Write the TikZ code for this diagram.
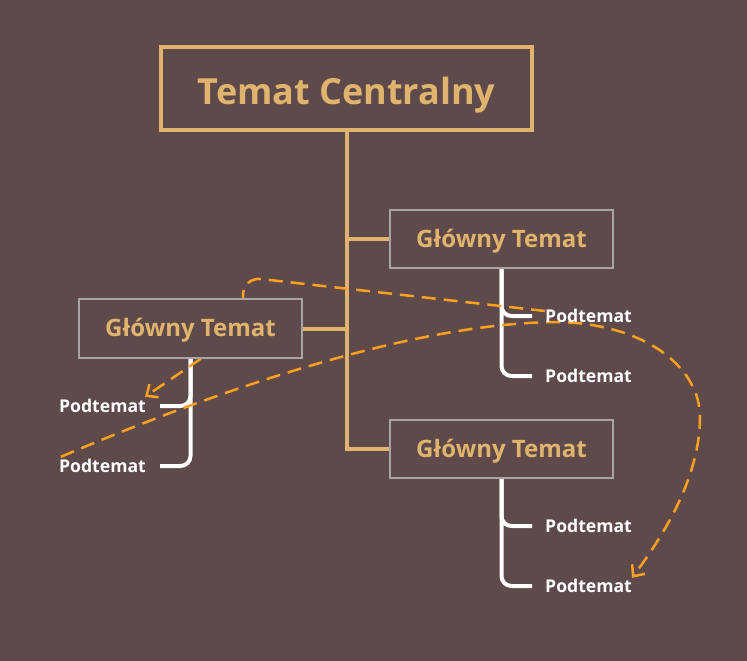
\documentclass[tikz,border=0pt]{standalone}
\usepackage{fontspec}
\setmainfont{Open Sans}
\usetikzlibrary{arrows.meta,calc}
\definecolor{bgc}{RGB}{94,74,74}
\definecolor{gold}{RGB}{224,180,110}
\definecolor{boxgray}{RGB}{170,165,165}
\definecolor{dashor}{RGB}{255,160,30}
\pgfdeclarelayer{back}
\pgfdeclarelayer{lines}
\pgfsetlayers{back,lines,main}
\begin{document}
\begin{tikzpicture}[x=1pt,y=-1pt,
  central/.style={draw=gold, line width=4pt, fill=bgc, minimum width=371pt, minimum height=83pt, inner sep=0pt, text height=31pt, text depth=0pt, font=\fontsize{36}{42}\selectfont\bfseries, text=gold},
  mainbox/.style={draw=boxgray, line width=2pt, fill=bgc, minimum width=223pt, minimum height=58pt, inner sep=0pt, text height=16.5pt, text depth=0pt, font=\fontsize{24}{28}\selectfont\bfseries, text=gold},
  sub/.style={inner sep=0pt, text height=12pt, text depth=0pt, font=\fontsize{17.6}{20}\selectfont\bfseries, text=white},
  trunk/.style={draw=gold, line width=4pt},
  subline/.style={draw=white, line width=4pt, rounded corners=10pt},
  rel/.style={draw=dashor, line width=2.5pt, dash pattern=on 14pt off 8pt, -{Straight Barb[length=9pt,width=16pt,line width=2.5pt]}}
]
\useasboundingbox (0,0) rectangle (747,661);
\node[central] (c) at (346.5,88.5) {Temat Centralny};
\node[mainbox] (r1) at (501.5,239) {Główny Temat};
\node[mainbox] (r2) at (501.5,449) {Główny Temat};
\node[mainbox, minimum height=59pt] (l1) at (190.5,328.5) {Główny Temat};
\node[sub, anchor=west] (p11) at (545,316) {Podtemat};
\node[sub, anchor=west] (p12) at (545,376) {Podtemat};
\node[sub, anchor=west] (p21) at (545,526) {Podtemat};
\node[sub, anchor=west] (p22) at (545,586) {Podtemat};
\node[sub, anchor=east] (q1) at (146,406) {Podtemat};
\node[sub, anchor=east] (q2) at (146,466) {Podtemat};
\begin{pgfonlayer}{back}
\fill[bgc] (0,0) rectangle (747,661);
\end{pgfonlayer}
\begin{pgfonlayer}{lines}
\draw[trunk] (c.south) -- (c.south |- r2.west) -- (r2.west);
\draw[trunk] (c.south |- r1.west) -- (r1.west);
\draw[trunk] (c.south |- l1.east) -- (l1.east);
\draw[subline] (r1.south) |- ($(p12.west)+(-13,0)$);
\draw[subline] (r1.south) |- ($(p11.west)+(-13,0)$);
\draw[subline] (r2.south) |- ($(p22.west)+(-13,0)$);
\draw[subline] (r2.south) |- ($(p21.west)+(-13,0)$);
\draw[subline] (l1.south) |- ($(q2.east)+(14,0)$);
\draw[subline] (l1.south) |- ($(q1.east)+(14,0)$);
\coordinate (a1) at ($(p11.west)+(0,-5)$);
\coordinate (k1) at (243,277);
\coordinate (k2) at (243,330);
\draw[rel, rounded corners=18pt] (a1) -- (k1) -- (k2) -- ($(q1.north east)+(-1,-3)$);
\draw[rel] ($(q2.north west)+(2,-3)$) .. controls (230,385) and (420,322) .. (560,322)
  .. controls (650,325) and (700,370) .. (700,417)
  .. controls (700,480) and (660,540) .. ($(p22.north east)+(0,-2)$);
\end{pgfonlayer}
\end{tikzpicture}
\end{document}
